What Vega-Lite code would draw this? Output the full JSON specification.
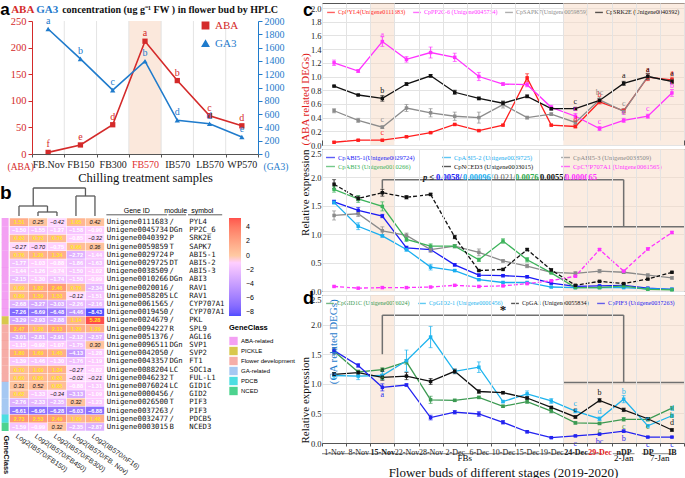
{
"$schema":"https://vega.github.io/schema/vega-lite/v6.json",
"background":"white",
"padding":{"left":0,"top":0,"right":0,"bottom":0},
"config":{
 "view":{"stroke":"#555"},
 "axis":{"labelFont":"Liberation Serif","titleFont":"Liberation Serif","gridColor":"#e3e3e3","domainColor":"#555","tickColor":"#555","labelColor":"#222","titleColor":"#111","titleFontWeight":"normal","labelOverlap":false},
 "legend":{"labelFont":"Liberation Serif","titleFont":"Liberation Sans","offset":3}
},
"datasets":{
 "hor":[
  {"s":"FB.Nov","h":"ABA","v":3,"l":"f"},{"s":"FB150","h":"ABA","v":17,"l":"e"},{"s":"FB300","h":"ABA","v":55,"l":"d"},{"s":"FB570","h":"ABA","v":212,"l":"a"},{"s":"IB570","h":"ABA","v":138,"l":"b"},{"s":"LB570","h":"ABA","v":72,"l":"c"},{"s":"WP570","h":"ABA","v":53,"l":"d"},
  {"s":"FB.Nov","h":"GA3","v":1880,"l":"a"},{"s":"FB150","h":"GA3","v":1430,"l":"b"},{"s":"FB300","h":"GA3","v":960,"l":"c"},{"s":"FB570","h":"GA3","v":1395,"l":"b"},{"s":"IB570","h":"GA3","v":507,"l":"d"},{"s":"LB570","h":"GA3","v":456,"l":"d"},{"s":"WP570","h":"GA3","v":256,"l":"e"}
 ],
 "acats":[{"s":"FB150"},{"s":"FB300"},{"s":"FB570"},{"s":"IB570"},{"s":"LB570"},{"s":"WP570"}],
 "genes":[
  {"g":"Unigene0111683","m":"/","s":"PYL4","cls":"ABA-related"},
  {"g":"Unigene0045734","m":"DGn","s":"PP2C_6","cls":"ABA-related"},
  {"g":"Unigene0040392","m":"P","s":"SRK2E","cls":"ABA-related"},
  {"g":"Unigene0059859","m":"T","s":"SAPK7","cls":"ABA-related"},
  {"g":"Unigene0029724","m":"P","s":"ABI5-1","cls":"ABA-related"},
  {"g":"Unigene0029725","m":"DT","s":"ABI5-2","cls":"ABA-related"},
  {"g":"Unigene0038509","m":"/","s":"ABI5-3","cls":"ABA-related"},
  {"g":"Unigene0010266","m":"DGn","s":"ABI3","cls":"ABA-related"},
  {"g":"Unigene0020016","m":"/","s":"RAV1","cls":"ABA-related"},
  {"g":"Unigene0058205","m":"LC","s":"RAV1","cls":"ABA-related"},
  {"g":"Unigene0061565","m":"/","s":"CYP707A1","cls":"ABA-related"},
  {"g":"Unigene0019450","m":"/","s":"CYP707A1","cls":"ABA-related"},
  {"g":"Unigene0024679","m":"/","s":"PKL","cls":"PICKLE"},
  {"g":"Unigene0094227","m":"R","s":"SPL9","cls":"Flower development"},
  {"g":"Unigene0051376","m":"/","s":"AGL16","cls":"Flower development"},
  {"g":"Unigene0096511","m":"DGn","s":"SVP1","cls":"Flower development"},
  {"g":"Unigene0042050","m":"/","s":"SVP2","cls":"Flower development"},
  {"g":"Unigene0043357","m":"DGn","s":"FT1","cls":"Flower development"},
  {"g":"Unigene0088204","m":"LC","s":"SOC1a","cls":"Flower development"},
  {"g":"Unigene0046232","m":"T","s":"FUL-L1","cls":"Flower development"},
  {"g":"Unigene0076024","m":"LC","s":"GID1C","cls":"GA-related"},
  {"g":"Unigene0000456","m":"/","s":"GID2","cls":"GA-related"},
  {"g":"Unigene0026500","m":"T","s":"PIF3","cls":"GA-related"},
  {"g":"Unigene0037263","m":"/","s":"PIF3","cls":"GA-related"},
  {"g":"Unigene0032477","m":"/","s":"PDCB5","cls":"PDCB"},
  {"g":"Unigene0003015","m":"B","s":"NCED3","cls":"NCED"}
 ],
 "hm":[
  {"g":"Unigene0111683","ci":1,"v":1.51},{"g":"Unigene0111683","ci":2,"v":0.25},{"g":"Unigene0111683","ci":3,"v":-0.42},{"g":"Unigene0111683","ci":4,"v":1.05},{"g":"Unigene0111683","ci":5,"v":0.42},
  {"g":"Unigene0045734","ci":1,"v":-1.50},{"g":"Unigene0045734","ci":2,"v":-1.55},{"g":"Unigene0045734","ci":3,"v":-1.27},{"g":"Unigene0045734","ci":4,"v":-1.58},{"g":"Unigene0045734","ci":5,"v":-0.90},
  {"g":"Unigene0040392","ci":1,"v":0.83},{"g":"Unigene0040392","ci":2,"v":0.73},{"g":"Unigene0040392","ci":3,"v":0.76},{"g":"Unigene0040392","ci":4,"v":-0.85},{"g":"Unigene0040392","ci":5,"v":-0.32},
  {"g":"Unigene0059859","ci":1,"v":-0.27},{"g":"Unigene0059859","ci":2,"v":-0.70},{"g":"Unigene0059859","ci":3,"v":-0.75},{"g":"Unigene0059859","ci":4,"v":0.66},{"g":"Unigene0059859","ci":5,"v":0.36},
  {"g":"Unigene0029724","ci":1,"v":0.76},{"g":"Unigene0029724","ci":2,"v":1.26},{"g":"Unigene0029724","ci":3,"v":1.34},{"g":"Unigene0029724","ci":4,"v":-2.72},{"g":"Unigene0029724","ci":5,"v":-1.44},
  {"g":"Unigene0029725","ci":1,"v":-1.77},{"g":"Unigene0029725","ci":2,"v":-1.03},{"g":"Unigene0029725","ci":3,"v":-0.88},{"g":"Unigene0029725","ci":4,"v":-1.86},{"g":"Unigene0029725","ci":5,"v":-1.63},
  {"g":"Unigene0038509","ci":1,"v":-1.44},{"g":"Unigene0038509","ci":2,"v":-1.26},{"g":"Unigene0038509","ci":3,"v":-0.74},{"g":"Unigene0038509","ci":4,"v":-1.50},{"g":"Unigene0038509","ci":5,"v":-1.02},
  {"g":"Unigene0010266","ci":1,"v":-2.15},{"g":"Unigene0010266","ci":2,"v":-1.30},{"g":"Unigene0010266","ci":3,"v":-1.74},{"g":"Unigene0010266","ci":4,"v":-1.50},{"g":"Unigene0010266","ci":5,"v":-0.99},
  {"g":"Unigene0020016","ci":1,"v":0.69},{"g":"Unigene0020016","ci":2,"v":1.82},{"g":"Unigene0020016","ci":3,"v":2.46},{"g":"Unigene0020016","ci":4,"v":0.76},{"g":"Unigene0020016","ci":5,"v":-2.34},
  {"g":"Unigene0058205","ci":1,"v":0.89},{"g":"Unigene0058205","ci":2,"v":1.59},{"g":"Unigene0058205","ci":3,"v":1.53},{"g":"Unigene0058205","ci":4,"v":-0.12},{"g":"Unigene0058205","ci":5,"v":-1.51},
  {"g":"Unigene0061565","ci":1,"v":-2.68},{"g":"Unigene0061565","ci":2,"v":-3.27},{"g":"Unigene0061565","ci":3,"v":-3.03},{"g":"Unigene0061565","ci":4,"v":-2.26},{"g":"Unigene0061565","ci":5,"v":-2.16},
  {"g":"Unigene0019450","ci":1,"v":-7.26},{"g":"Unigene0019450","ci":2,"v":-6.69},{"g":"Unigene0019450","ci":3,"v":-6.48},{"g":"Unigene0019450","ci":4,"v":-4.46},{"g":"Unigene0019450","ci":5,"v":-8.43},
  {"g":"Unigene0024679","ci":1,"v":-3.29},{"g":"Unigene0024679","ci":2,"v":-2.93},{"g":"Unigene0024679","ci":3,"v":-2.88},{"g":"Unigene0024679","ci":4,"v":1.14},{"g":"Unigene0024679","ci":5,"v":5.28},
  {"g":"Unigene0094227","ci":1,"v":2.47},{"g":"Unigene0094227","ci":2,"v":1.28},{"g":"Unigene0094227","ci":3,"v":2.13},{"g":"Unigene0094227","ci":4,"v":1.30},{"g":"Unigene0094227","ci":5,"v":1.29},
  {"g":"Unigene0051376","ci":1,"v":-3.01},{"g":"Unigene0051376","ci":2,"v":-2.81},{"g":"Unigene0051376","ci":3,"v":-2.91},{"g":"Unigene0051376","ci":4,"v":-2.12},{"g":"Unigene0051376","ci":5,"v":-2.57},
  {"g":"Unigene0096511","ci":1,"v":-1.15},{"g":"Unigene0096511","ci":2,"v":-0.92},{"g":"Unigene0096511","ci":3,"v":-1.07},{"g":"Unigene0096511","ci":4,"v":-1.75},{"g":"Unigene0096511","ci":5,"v":0.30},
  {"g":"Unigene0042050","ci":1,"v":1.80},{"g":"Unigene0042050","ci":2,"v":1.69},{"g":"Unigene0042050","ci":3,"v":1.45},{"g":"Unigene0042050","ci":4,"v":-4.13},{"g":"Unigene0042050","ci":5,"v":-1.28},
  {"g":"Unigene0043357","ci":1,"v":-1.39},{"g":"Unigene0043357","ci":2,"v":-1.46},{"g":"Unigene0043357","ci":3,"v":-1.30},{"g":"Unigene0043357","ci":4,"v":-1.76},{"g":"Unigene0043357","ci":5,"v":-1.19},
  {"g":"Unigene0088204","ci":1,"v":0.70},{"g":"Unigene0088204","ci":2,"v":1.09},{"g":"Unigene0088204","ci":3,"v":1.34},{"g":"Unigene0088204","ci":4,"v":-0.27},{"g":"Unigene0088204","ci":5,"v":-0.82},
  {"g":"Unigene0046232","ci":1,"v":0.60},{"g":"Unigene0046232","ci":2,"v":0.86},{"g":"Unigene0046232","ci":3,"v":0.83},{"g":"Unigene0046232","ci":4,"v":-0.02},{"g":"Unigene0046232","ci":5,"v":-0.21},
  {"g":"Unigene0076024","ci":1,"v":0.31},{"g":"Unigene0076024","ci":2,"v":0.52},{"g":"Unigene0076024","ci":3,"v":0.65},{"g":"Unigene0076024","ci":4,"v":-0.88},{"g":"Unigene0076024","ci":5,"v":-1.31},
  {"g":"Unigene0000456","ci":1,"v":0.62},{"g":"Unigene0000456","ci":2,"v":-1.33},{"g":"Unigene0000456","ci":3,"v":-0.34},{"g":"Unigene0000456","ci":4,"v":-3.13},{"g":"Unigene0000456","ci":5,"v":-1.09},
  {"g":"Unigene0026500","ci":1,"v":-2.76},{"g":"Unigene0026500","ci":2,"v":-2.33},{"g":"Unigene0026500","ci":3,"v":-2.35},{"g":"Unigene0026500","ci":4,"v":0.32},{"g":"Unigene0026500","ci":5,"v":-1.23},
  {"g":"Unigene0037263","ci":1,"v":-6.61},{"g":"Unigene0037263","ci":2,"v":-6.96},{"g":"Unigene0037263","ci":3,"v":-6.28},{"g":"Unigene0037263","ci":4,"v":-6.03},{"g":"Unigene0037263","ci":5,"v":-6.88},
  {"g":"Unigene0032477","ci":1,"v":2.73},{"g":"Unigene0032477","ci":2,"v":2.53},{"g":"Unigene0032477","ci":3,"v":2.49},{"g":"Unigene0032477","ci":4,"v":1.09},{"g":"Unigene0032477","ci":5,"v":1.48},
  {"g":"Unigene0003015","ci":1,"v":-1.59},{"g":"Unigene0003015","ci":2,"v":-0.99},{"g":"Unigene0003015","ci":3,"v":0.32},{"g":"Unigene0003015","ci":4,"v":-2.35},{"g":"Unigene0003015","ci":5,"v":-2.87}
 ],
 "dendro":[
  {"x":2,"x2":2,"y":0,"y2":4},{"x":3,"x2":3,"y":0,"y2":4},{"x":2,"x2":3,"y":4,"y2":4},
  {"x":1,"x2":1,"y":0,"y2":10},{"x":2.5,"x2":2.5,"y":4,"y2":10},{"x":1,"x2":2.5,"y":10,"y2":10},
  {"x":4,"x2":4,"y":0,"y2":20},{"x":5,"x2":5,"y":0,"y2":20},{"x":4,"x2":5,"y":20,"y2":20},
  {"x":1.75,"x2":1.75,"y":10,"y2":28},{"x":4.5,"x2":4.5,"y":20,"y2":28},{"x":1.75,"x2":4.5,"y":28,"y2":28}
 ],
 "shade":[{"d":"15-Nov"},{"d":"24-Dec"},{"d":"29-Dec"},{"d":"nDP"},{"d":"DP"},{"d":"IB"}],
 "c1":[
  {"d":"1-Nov","g":"CpPYL4(Unigene0111683)","v":0.04,"e":0.01},{"d":"8-Nov","g":"CpPYL4(Unigene0111683)","v":0.07,"e":0.01},{"d":"15-Nov","g":"CpPYL4(Unigene0111683)","v":0.07,"e":0.01,"l":"c"},{"d":"22-Nov","g":"CpPYL4(Unigene0111683)","v":0.12,"e":0.01},{"d":"28-Nov","g":"CpPYL4(Unigene0111683)","v":0.18,"e":0.01},{"d":"2-Dec","g":"CpPYL4(Unigene0111683)","v":0.30,"e":0.01},{"d":"6-Dec","g":"CpPYL4(Unigene0111683)","v":0.21,"e":0.01},{"d":"10-Dec","g":"CpPYL4(Unigene0111683)","v":0.29,"e":0.01},{"d":"15-Dec","g":"CpPYL4(Unigene0111683)","v":0.98,"e":0.06},{"d":"19-Dec","g":"CpPYL4(Unigene0111683)","v":0.29,"e":0.01},{"d":"24-Dec","g":"CpPYL4(Unigene0111683)","v":0.27,"e":0.02,"l":"d"},{"d":"29-Dec","g":"CpPYL4(Unigene0111683)","v":0.63,"e":0.03,"l":"b"},{"d":"nDP","g":"CpPYL4(Unigene0111683)","v":0.50,"e":0.03},{"d":"DP","g":"CpPYL4(Unigene0111683)","v":0.99,"e":0.05,"l":"a"},{"d":"IB","g":"CpPYL4(Unigene0111683)","v":0.95,"e":0.04,"l":"a"},
  {"d":"1-Nov","g":"CpPP2C-6 (Unigene0045734)","v":1.20,"e":0.04},{"d":"8-Nov","g":"CpPP2C-6 (Unigene0045734)","v":1.08,"e":0.02},{"d":"15-Nov","g":"CpPP2C-6 (Unigene0045734)","v":1.51,"e":0.07,"l":"a"},{"d":"22-Nov","g":"CpPP2C-6 (Unigene0045734)","v":1.25,"e":0.04},{"d":"28-Nov","g":"CpPP2C-6 (Unigene0045734)","v":1.35,"e":0.08},{"d":"2-Dec","g":"CpPP2C-6 (Unigene0045734)","v":1.28,"e":0.06},{"d":"6-Dec","g":"CpPP2C-6 (Unigene0045734)","v":1.00,"e":0.06},{"d":"10-Dec","g":"CpPP2C-6 (Unigene0045734)","v":0.89,"e":0.02},{"d":"15-Dec","g":"CpPP2C-6 (Unigene0045734)","v":0.88,"e":0.03},{"d":"19-Dec","g":"CpPP2C-6 (Unigene0045734)","v":0.55,"e":0.03},{"d":"24-Dec","g":"CpPP2C-6 (Unigene0045734)","v":0.42,"e":0.04,"l":"c"},{"d":"29-Dec","g":"CpPP2C-6 (Unigene0045734)","v":0.24,"e":0.03,"l":"c"},{"d":"nDP","g":"CpPP2C-6 (Unigene0045734)","v":0.36,"e":0.03,"l":"c"},{"d":"DP","g":"CpPP2C-6 (Unigene0045734)","v":0.42,"e":0.03,"l":"c"},{"d":"IB","g":"CpPP2C-6 (Unigene0045734)","v":0.76,"e":0.05,"l":"b"},
  {"d":"1-Nov","g":"CpSAPK7(Unigene0059859)","v":0.50,"e":0.03},{"d":"8-Nov","g":"CpSAPK7(Unigene0059859)","v":0.36,"e":0.03},{"d":"15-Nov","g":"CpSAPK7(Unigene0059859)","v":0.26,"e":0.02,"l":"c"},{"d":"22-Nov","g":"CpSAPK7(Unigene0059859)","v":0.54,"e":0.05},{"d":"28-Nov","g":"CpSAPK7(Unigene0059859)","v":0.47,"e":0.06},{"d":"2-Dec","g":"CpSAPK7(Unigene0059859)","v":0.42,"e":0.06},{"d":"6-Dec","g":"CpSAPK7(Unigene0059859)","v":0.40,"e":0.08},{"d":"10-Dec","g":"CpSAPK7(Unigene0059859)","v":0.59,"e":0.05},{"d":"15-Dec","g":"CpSAPK7(Unigene0059859)","v":0.40,"e":0.02},{"d":"19-Dec","g":"CpSAPK7(Unigene0059859)","v":0.45,"e":0.02},{"d":"24-Dec","g":"CpSAPK7(Unigene0059859)","v":0.33,"e":0.03},{"d":"29-Dec","g":"CpSAPK7(Unigene0059859)","v":0.66,"e":0.04,"l":"bc"},{"d":"nDP","g":"CpSAPK7(Unigene0059859)","v":0.49,"e":0.04,"l":"c"},{"d":"DP","g":"CpSAPK7(Unigene0059859)","v":1.00,"e":0.05},{"d":"IB","g":"CpSAPK7(Unigene0059859)","v":0.93,"e":0.04},
  {"d":"1-Nov","g":"CpSRK2E (Unigene0040392)","v":0.86,"e":0.01},{"d":"8-Nov","g":"CpSRK2E (Unigene0040392)","v":0.73,"e":0.01},{"d":"15-Nov","g":"CpSRK2E (Unigene0040392)","v":0.68,"e":0.04,"l":"b"},{"d":"22-Nov","g":"CpSRK2E (Unigene0040392)","v":0.89,"e":0.02},{"d":"28-Nov","g":"CpSRK2E (Unigene0040392)","v":1.01,"e":0.02},{"d":"2-Dec","g":"CpSRK2E (Unigene0040392)","v":0.77,"e":0.03},{"d":"6-Dec","g":"CpSRK2E (Unigene0040392)","v":0.68,"e":0.02},{"d":"10-Dec","g":"CpSRK2E (Unigene0040392)","v":0.61,"e":0.03},{"d":"15-Dec","g":"CpSRK2E (Unigene0040392)","v":0.71,"e":0.02},{"d":"19-Dec","g":"CpSRK2E (Unigene0040392)","v":0.53,"e":0.02},{"d":"24-Dec","g":"CpSRK2E (Unigene0040392)","v":0.53,"e":0.02,"l":"c"},{"d":"29-Dec","g":"CpSRK2E (Unigene0040392)","v":0.65,"e":0.03},{"d":"nDP","g":"CpSRK2E (Unigene0040392)","v":0.90,"e":0.03,"l":"a"},{"d":"DP","g":"CpSRK2E (Unigene0040392)","v":1.00,"e":0.04,"l":"a"},{"d":"IB","g":"CpSRK2E (Unigene0040392)","v":0.93,"e":0.03,"l":"a"}
 ],
 "c2":[
  {"d":"1-Nov","g":"CpABI5-1(Unigene0029724)","v":1.57,"e":0.03},{"d":"8-Nov","g":"CpABI5-1(Unigene0029724)","v":1.42,"e":0.05},{"d":"15-Nov","g":"CpABI5-1(Unigene0029724)","v":1.32,"e":0.03},{"d":"22-Nov","g":"CpABI5-1(Unigene0029724)","v":0.76,"e":0.03},{"d":"28-Nov","g":"CpABI5-1(Unigene0029724)","v":0.73,"e":0.03},{"d":"2-Dec","g":"CpABI5-1(Unigene0029724)","v":0.46,"e":0.02},{"d":"6-Dec","g":"CpABI5-1(Unigene0029724)","v":0.28,"e":0.02},{"d":"10-Dec","g":"CpABI5-1(Unigene0029724)","v":0.27,"e":0.02},{"d":"15-Dec","g":"CpABI5-1(Unigene0029724)","v":0.25,"e":0.02},{"d":"19-Dec","g":"CpABI5-1(Unigene0029724)","v":0.14,"e":0.02},{"d":"24-Dec","g":"CpABI5-1(Unigene0029724)","v":0.08,"e":0.01},{"d":"29-Dec","g":"CpABI5-1(Unigene0029724)","v":0.09,"e":0.01},{"d":"nDP","g":"CpABI5-1(Unigene0029724)","v":0.10,"e":0.01},{"d":"DP","g":"CpABI5-1(Unigene0029724)","v":0.05,"e":0.01},{"d":"IB","g":"CpABI5-1(Unigene0029724)","v":0.03,"e":0.01},
  {"d":"1-Nov","g":"CpABI5-2 (Unigene0029725)","v":1.56,"e":0.03},{"d":"8-Nov","g":"CpABI5-2 (Unigene0029725)","v":1.14,"e":0.06},{"d":"15-Nov","g":"CpABI5-2 (Unigene0029725)","v":0.97,"e":0.02},{"d":"22-Nov","g":"CpABI5-2 (Unigene0029725)","v":0.73,"e":0.03},{"d":"28-Nov","g":"CpABI5-2 (Unigene0029725)","v":0.42,"e":0.05},{"d":"2-Dec","g":"CpABI5-2 (Unigene0029725)","v":0.36,"e":0.02},{"d":"6-Dec","g":"CpABI5-2 (Unigene0029725)","v":0.20,"e":0.01},{"d":"10-Dec","g":"CpABI5-2 (Unigene0029725)","v":0.15,"e":0.01},{"d":"15-Dec","g":"CpABI5-2 (Unigene0029725)","v":0.15,"e":0.01},{"d":"19-Dec","g":"CpABI5-2 (Unigene0029725)","v":0.07,"e":0.01},{"d":"24-Dec","g":"CpABI5-2 (Unigene0029725)","v":0.06,"e":0.01},{"d":"29-Dec","g":"CpABI5-2 (Unigene0029725)","v":0.06,"e":0.01},{"d":"nDP","g":"CpABI5-2 (Unigene0029725)","v":0.06,"e":0.01},{"d":"DP","g":"CpABI5-2 (Unigene0029725)","v":0.04,"e":0.01},{"d":"IB","g":"CpABI5-2 (Unigene0029725)","v":0.03,"e":0.01},
  {"d":"1-Nov","g":"CpABI5-3 (Unigene0038509)","v":1.33,"e":0.08},{"d":"8-Nov","g":"CpABI5-3 (Unigene0038509)","v":1.36,"e":0.05},{"d":"15-Nov","g":"CpABI5-3 (Unigene0038509)","v":1.06,"e":0.07},{"d":"22-Nov","g":"CpABI5-3 (Unigene0038509)","v":0.98,"e":0.04},{"d":"28-Nov","g":"CpABI5-3 (Unigene0038509)","v":0.73,"e":0.05},{"d":"2-Dec","g":"CpABI5-3 (Unigene0038509)","v":0.79,"e":0.03},{"d":"6-Dec","g":"CpABI5-3 (Unigene0038509)","v":0.68,"e":0.06},{"d":"10-Dec","g":"CpABI5-3 (Unigene0038509)","v":0.53,"e":0.02},{"d":"15-Dec","g":"CpABI5-3 (Unigene0038509)","v":0.44,"e":0.03},{"d":"19-Dec","g":"CpABI5-3 (Unigene0038509)","v":0.33,"e":0.02},{"d":"24-Dec","g":"CpABI5-3 (Unigene0038509)","v":0.31,"e":0.03},{"d":"29-Dec","g":"CpABI5-3 (Unigene0038509)","v":0.35,"e":0.03},{"d":"nDP","g":"CpABI5-3 (Unigene0038509)","v":0.33,"e":0.02},{"d":"DP","g":"CpABI5-3 (Unigene0038509)","v":0.28,"e":0.02},{"d":"IB","g":"CpABI5-3 (Unigene0038509)","v":0.23,"e":0.02},
  {"d":"1-Nov","g":"CpABI3 (Unigene0010266)","v":1.79,"e":0.05},{"d":"8-Nov","g":"CpABI3 (Unigene0010266)","v":1.62,"e":0.06},{"d":"15-Nov","g":"CpABI3 (Unigene0010266)","v":1.49,"e":0.08},{"d":"22-Nov","g":"CpABI3 (Unigene0010266)","v":0.91,"e":0.04},{"d":"28-Nov","g":"CpABI3 (Unigene0010266)","v":0.79,"e":0.04},{"d":"2-Dec","g":"CpABI3 (Unigene0010266)","v":0.79,"e":0.03},{"d":"6-Dec","g":"CpABI3 (Unigene0010266)","v":0.55,"e":0.03},{"d":"10-Dec","g":"CpABI3 (Unigene0010266)","v":0.88,"e":0.04},{"d":"15-Dec","g":"CpABI3 (Unigene0010266)","v":0.55,"e":0.04},{"d":"19-Dec","g":"CpABI3 (Unigene0010266)","v":0.32,"e":0.02},{"d":"24-Dec","g":"CpABI3 (Unigene0010266)","v":0.06,"e":0.01},{"d":"29-Dec","g":"CpABI3 (Unigene0010266)","v":0.06,"e":0.01},{"d":"nDP","g":"CpABI3 (Unigene0010266)","v":0.09,"e":0.01},{"d":"DP","g":"CpABI3 (Unigene0010266)","v":0.03,"e":0.01},{"d":"IB","g":"CpABI3 (Unigene0010266)","v":0.02,"e":0.01},
  {"d":"1-Nov","g":"CpNCED3 (Unigene0003015)","v":1.88,"e":0.08},{"d":"8-Nov","g":"CpNCED3 (Unigene0003015)","v":1.63,"e":0.04},{"d":"15-Nov","g":"CpNCED3 (Unigene0003015)","v":1.73,"e":0.06},{"d":"22-Nov","g":"CpNCED3 (Unigene0003015)","v":1.65,"e":0.03},{"d":"28-Nov","g":"CpNCED3 (Unigene0003015)","v":1.70,"e":0.02},{"d":"2-Dec","g":"CpNCED3 (Unigene0003015)","v":0.95,"e":0.03},{"d":"6-Dec","g":"CpNCED3 (Unigene0003015)","v":0.36,"e":0.01},{"d":"10-Dec","g":"CpNCED3 (Unigene0003015)","v":0.38,"e":0.01},{"d":"15-Dec","g":"CpNCED3 (Unigene0003015)","v":0.73,"e":0.02},{"d":"19-Dec","g":"CpNCED3 (Unigene0003015)","v":0.37,"e":0.02},{"d":"24-Dec","g":"CpNCED3 (Unigene0003015)","v":0.10,"e":0.01},{"d":"29-Dec","g":"CpNCED3 (Unigene0003015)","v":0.17,"e":0.01},{"d":"nDP","g":"CpNCED3 (Unigene0003015)","v":0.13,"e":0.01},{"d":"DP","g":"CpNCED3 (Unigene0003015)","v":0.21,"e":0.01},{"d":"IB","g":"CpNCED3 (Unigene0003015)","v":0.33,"e":0.01},
  {"d":"1-Nov","g":"CpCYP707A1 (Unigene0061565)","v":0.08,"e":0.01},{"d":"8-Nov","g":"CpCYP707A1 (Unigene0061565)","v":0.05,"e":0.01},{"d":"15-Nov","g":"CpCYP707A1 (Unigene0061565)","v":0.06,"e":0.01},{"d":"22-Nov","g":"CpCYP707A1 (Unigene0061565)","v":0.06,"e":0.01},{"d":"28-Nov","g":"CpCYP707A1 (Unigene0061565)","v":0.07,"e":0.01},{"d":"2-Dec","g":"CpCYP707A1 (Unigene0061565)","v":0.10,"e":0.01},{"d":"6-Dec","g":"CpCYP707A1 (Unigene0061565)","v":0.08,"e":0.01},{"d":"10-Dec","g":"CpCYP707A1 (Unigene0061565)","v":0.09,"e":0.01},{"d":"15-Dec","g":"CpCYP707A1 (Unigene0061565)","v":0.13,"e":0.01},{"d":"19-Dec","g":"CpCYP707A1 (Unigene0061565)","v":0.18,"e":0.01},{"d":"24-Dec","g":"CpCYP707A1 (Unigene0061565)","v":0.26,"e":0.01},{"d":"29-Dec","g":"CpCYP707A1 (Unigene0061565)","v":0.73,"e":0.02},{"d":"nDP","g":"CpCYP707A1 (Unigene0061565)","v":0.35,"e":0.01},{"d":"DP","g":"CpCYP707A1 (Unigene0061565)","v":0.74,"e":0.02},{"d":"IB","g":"CpCYP707A1 (Unigene0061565)","v":1.03,"e":0.02}
 ],
 "gd":[
  {"d":"1-Nov","g":"CpGID1C (Unigene0076024)","v":1.55,"e":0.05},{"d":"8-Nov","g":"CpGID1C (Unigene0076024)","v":1.20,"e":0.02},{"d":"15-Nov","g":"CpGID1C (Unigene0076024)","v":1.24,"e":0.03,"l":"a"},{"d":"22-Nov","g":"CpGID1C (Unigene0076024)","v":1.37,"e":0.04},{"d":"28-Nov","g":"CpGID1C (Unigene0076024)","v":0.73,"e":0.06},{"d":"2-Dec","g":"CpGID1C (Unigene0076024)","v":0.72,"e":0.02},{"d":"6-Dec","g":"CpGID1C (Unigene0076024)","v":0.77,"e":0.02},{"d":"10-Dec","g":"CpGID1C (Unigene0076024)","v":0.62,"e":0.02},{"d":"15-Dec","g":"CpGID1C (Unigene0076024)","v":0.70,"e":0.03},{"d":"19-Dec","g":"CpGID1C (Unigene0076024)","v":0.54,"e":0.03},{"d":"24-Dec","g":"CpGID1C (Unigene0076024)","v":0.34,"e":0.02},{"d":"29-Dec","g":"CpGID1C (Unigene0076024)","v":0.33,"e":0.02,"l":"c"},{"d":"nDP","g":"CpGID1C (Unigene0076024)","v":0.40,"e":0.03,"l":"c"},{"d":"DP","g":"CpGID1C (Unigene0076024)","v":0.40,"e":0.03,"l":"c"},{"d":"IB","g":"CpGID1C (Unigene0076024)","v":0.59,"e":0.03,"l":"b"},
  {"d":"1-Nov","g":"CpGID2-1 (Unigene0000456)","v":1.14,"e":0.05},{"d":"8-Nov","g":"CpGID2-1 (Unigene0000456)","v":1.13,"e":0.06},{"d":"15-Nov","g":"CpGID2-1 (Unigene0000456)","v":1.14,"e":0.07},{"d":"22-Nov","g":"CpGID2-1 (Unigene0000456)","v":1.39,"e":0.18},{"d":"28-Nov","g":"CpGID2-1 (Unigene0000456)","v":1.79,"e":0.18},{"d":"2-Dec","g":"CpGID2-1 (Unigene0000456)","v":1.21,"e":0.03},{"d":"6-Dec","g":"CpGID2-1 (Unigene0000456)","v":1.28,"e":0.09},{"d":"10-Dec","g":"CpGID2-1 (Unigene0000456)","v":0.70,"e":0.02},{"d":"15-Dec","g":"CpGID2-1 (Unigene0000456)","v":0.83,"e":0.05},{"d":"19-Dec","g":"CpGID2-1 (Unigene0000456)","v":0.71,"e":0.04},{"d":"24-Dec","g":"CpGID2-1 (Unigene0000456)","v":0.54,"e":0.03,"l":"c"},{"d":"29-Dec","g":"CpGID2-1 (Unigene0000456)","v":0.41,"e":0.03,"l":"d"},{"d":"nDP","g":"CpGID2-1 (Unigene0000456)","v":0.74,"e":0.06,"l":"b"},{"d":"DP","g":"CpGID2-1 (Unigene0000456)","v":0.29,"e":0.02,"l":"e"},{"d":"IB","g":"CpGID2-1 (Unigene0000456)","v":0.46,"e":0.03,"l":"d"},
  {"d":"1-Nov","g":"CpGA1 (Unigene0055834)","v":1.16,"e":0.03},{"d":"8-Nov","g":"CpGA1 (Unigene0055834)","v":1.19,"e":0.04},{"d":"15-Nov","g":"CpGA1 (Unigene0055834)","v":1.11,"e":0.05,"l":"a"},{"d":"22-Nov","g":"CpGA1 (Unigene0055834)","v":1.13,"e":0.06},{"d":"28-Nov","g":"CpGA1 (Unigene0055834)","v":1.04,"e":0.05},{"d":"2-Dec","g":"CpGA1 (Unigene0055834)","v":1.21,"e":0.04},{"d":"6-Dec","g":"CpGA1 (Unigene0055834)","v":0.87,"e":0.03},{"d":"10-Dec","g":"CpGA1 (Unigene0055834)","v":0.85,"e":0.02},{"d":"15-Dec","g":"CpGA1 (Unigene0055834)","v":0.76,"e":0.02},{"d":"19-Dec","g":"CpGA1 (Unigene0055834)","v":0.60,"e":0.02},{"d":"24-Dec","g":"CpGA1 (Unigene0055834)","v":0.44,"e":0.02,"l":"c"},{"d":"29-Dec","g":"CpGA1 (Unigene0055834)","v":0.72,"e":0.03,"l":"b"},{"d":"nDP","g":"CpGA1 (Unigene0055834)","v":0.56,"e":0.03},{"d":"DP","g":"CpGA1 (Unigene0055834)","v":0.41,"e":0.02},{"d":"IB","g":"CpGA1 (Unigene0055834)","v":0.22,"e":0.02,"l":"d"},
  {"d":"1-Nov","g":"CpPIF3 (Unigene0037263)","v":1.56,"e":0.05},{"d":"8-Nov","g":"CpPIF3 (Unigene0037263)","v":1.31,"e":0.03},{"d":"15-Nov","g":"CpPIF3 (Unigene0037263)","v":0.94,"e":0.06,"l":"a"},{"d":"22-Nov","g":"CpPIF3 (Unigene0037263)","v":0.98,"e":0.02},{"d":"28-Nov","g":"CpPIF3 (Unigene0037263)","v":0.43,"e":0.04},{"d":"2-Dec","g":"CpPIF3 (Unigene0037263)","v":0.52,"e":0.03},{"d":"6-Dec","g":"CpPIF3 (Unigene0037263)","v":0.49,"e":0.04},{"d":"10-Dec","g":"CpPIF3 (Unigene0037263)","v":0.35,"e":0.03},{"d":"15-Dec","g":"CpPIF3 (Unigene0037263)","v":0.19,"e":0.02},{"d":"19-Dec","g":"CpPIF3 (Unigene0037263)","v":0.09,"e":0.01},{"d":"24-Dec","g":"CpPIF3 (Unigene0037263)","v":0.12,"e":0.01,"l":"c"},{"d":"29-Dec","g":"CpPIF3 (Unigene0037263)","v":0.15,"e":0.01,"l":"bc"},{"d":"nDP","g":"CpPIF3 (Unigene0037263)","v":0.20,"e":0.02,"l":"b"},{"d":"DP","g":"CpPIF3 (Unigene0037263)","v":0.10,"e":0.01,"l":"c"},{"d":"IB","g":"CpPIF3 (Unigene0037263)","v":0.10,"e":0.01,"l":"c"}
 ]
},
"hconcat":[
 {
  "vconcat":[
   {
    "width":258,"height":151,
    "view":{"stroke":null},
    "layer":[
     {
      "layer":[
       {"data":{"values":[{"s":"FB570"}]},"mark":{"type":"rect","color":"#fbe8dc"},
        "encoding":{"x":{"field":"s","type":"nominal","sort":["FB.Nov","FB150","FB300","FB570","IB570","LB570","WP570"],"scale":{"type":"band","paddingInner":0,"paddingOuter":0,"domain":["FB.Nov","FB150","FB300","FB570","IB570","LB570","WP570"],"range":[32,258]},
          "axis":{"title":"Chilling treatment samples","titleFontSize":12.5,"titlePadding":2,"labelFontSize":10,"labelAngle":0,"labelPadding":2,"labelOverlap":false,"labelColor":{"condition":{"test":"datum.value == 'FB570'","value":"#e03030"},"value":"#222"},"tickBand":"extent","grid":false,"tickSize":3}},
         "y":{"datum":250,"scale":{"domain":[0,250],"nice":false,"range":[151,18]}},"y2":{"datum":0}}},
       {"data":{"name":"acats"},"mark":{"type":"rule","color":"#e4e4e4","strokeWidth":1},
        "encoding":{"x":{"field":"s","type":"nominal","bandPosition":0},"y":{"datum":250},"y2":{"datum":0}}},
       {"data":{"name":"hor"},"transform":[{"filter":"datum.h == 'ABA'"}],
        "layer":[
         {"mark":{"type":"line","strokeWidth":1.6},"encoding":{"x":{"field":"s","type":"nominal","sort":["FB.Nov","FB150","FB300","FB570","IB570","LB570","WP570"]},
           "y":{"field":"v","type":"quantitative","axis":{"offset":-32,"title":"(ABA)","titleAngle":0,"titleX":-25,"titleY":163,"titleAlign":"left","titleBaseline":"middle","titleColor":"#d42a2a","titleFontSize":9.5,"values":[0,50,100,150,200,250],"tickCount":30,"labelOverlap":false,"labelColor":"#d42a2a","tickColor":"#d42a2a","domainColor":"#d42a2a","labelFontSize":10.5,"grid":false,"tickSize":4}},
           "color":{"field":"h","type":"nominal","scale":{"domain":["ABA","GA3"],"range":["#d42a2a","#1f7bcc"]},"legend":{"orient":"none","legendX":200,"legendY":17,"title":null,"labelFontSize":11,"symbolSize":40,"rowPadding":5,"labelColor":{"expr":"datum.label == 'ABA' ? '#d42a2a' : '#1f7bcc'"}}}}},
         {"mark":{"type":"point","filled":true,"size":28,"opacity":1},"encoding":{"x":{"field":"s","type":"nominal","sort":["FB.Nov","FB150","FB300","FB570","IB570","LB570","WP570"]},"y":{"field":"v","type":"quantitative"},
           "color":{"field":"h","type":"nominal"},
           "shape":{"field":"h","type":"nominal","scale":{"domain":["ABA","GA3"],"range":["square","triangle-up"]},"legend":{"orient":"none","legendX":200,"legendY":17,"title":null,"labelFontSize":11,"symbolSize":40,"rowPadding":5,"labelColor":{"expr":"datum.label == 'ABA' ? '#d42a2a' : '#1f7bcc'"}}}}},
         {"mark":{"type":"text","dy":-8,"font":"Liberation Serif","fontSize":10},"encoding":{"x":{"field":"s","type":"nominal","sort":["FB.Nov","FB150","FB300","FB570","IB570","LB570","WP570"]},"y":{"field":"v","type":"quantitative"},"text":{"field":"l"},"color":{"field":"h","type":"nominal"}}}
        ]},
       {"data":{"values":[{}]},"mark":{"type":"text","text":"a","font":"Liberation Sans","fontSize":17,"fontWeight":"bold","align":"left","baseline":"middle","dx":-48},"encoding":{"x":{"datum":"FB.Nov"},"y":{"datum":271}}},
       {"data":{"values":[{}]},"mark":{"type":"text","text":"ABA","font":"Liberation Serif","fontSize":11,"fontWeight":"bold","color":"#d42a2a","align":"left","baseline":"middle","dx":-37},"encoding":{"x":{"datum":"FB.Nov"},"y":{"datum":271}}},
       {"data":{"values":[{}]},"mark":{"type":"text","text":"GA3","font":"Liberation Serif","fontSize":11,"fontWeight":"bold","color":"#1f7bcc","align":"left","baseline":"middle","dx":-12},"encoding":{"x":{"datum":"FB.Nov"},"y":{"datum":271}}},
       {"data":{"values":[{}]},"mark":{"type":"text","text":"concentration (ug g⁻¹ FW )  in flower bud by HPLC","font":"Liberation Serif","fontSize":10,"fontWeight":"bold","color":"#111","align":"left","baseline":"middle","dx":14},"encoding":{"x":{"datum":"FB.Nov"},"y":{"datum":271}}}
      ]
     },
     {"data":{"name":"hor"},"transform":[{"filter":"datum.h == 'GA3'"}],
      "layer":[
       {"mark":{"type":"line","strokeWidth":1.6},"encoding":{"x":{"field":"s","type":"nominal","sort":["FB.Nov","FB150","FB300","FB570","IB570","LB570","WP570"]},
         "y":{"field":"v","type":"quantitative","scale":{"domain":[0,2000],"nice":false,"range":[151,18]},"axis":{"orient":"right","title":"(GA3)","titleAngle":0,"titleX":5,"titleY":163,"titleAlign":"left","titleBaseline":"middle","titleColor":"#1f7bcc","titleFontSize":9.5,"values":[0,200,400,600,800,1000,1200,1400,1600,1800,2000],"tickCount":30,"format":"d","labelOverlap":false,"labelColor":"#1f7bcc","tickColor":"#1f7bcc","domainColor":"#1f7bcc","labelFontSize":10,"grid":false,"tickSize":4}},
         "color":{"field":"h","type":"nominal"}}},
       {"mark":{"type":"point","filled":true,"size":28,"opacity":1},"encoding":{"x":{"field":"s","type":"nominal","sort":["FB.Nov","FB150","FB300","FB570","IB570","LB570","WP570"]},"y":{"field":"v","type":"quantitative"},"color":{"field":"h","type":"nominal"},"shape":{"field":"h","type":"nominal"}}},
       {"mark":{"type":"text","dy":-8,"font":"Liberation Serif","fontSize":10},"encoding":{"x":{"field":"s","type":"nominal","sort":["FB.Nov","FB150","FB300","FB570","IB570","LB570","WP570"]},"y":{"field":"v","type":"quantitative"},"text":{"field":"l"},"color":{"field":"h","type":"nominal"}}}
      ]}
    ],
    "resolve":{"scale":{"y":"independent"}}
   },
   {
    "width":226,"height":32,
    "view":{"stroke":null},
    "layer":[
     {"data":{"name":"dendro"},"mark":{"type":"rule","color":"#5a5a5a","strokeWidth":1.3},
      "encoding":{"x":{"field":"x","type":"quantitative","scale":{"domain":[0,11.9],"nice":false,"zero":false},"axis":null},"x2":{"field":"x2"},
       "y":{"field":"y","type":"quantitative","scale":{"domain":[0,32],"nice":false},"axis":null},"y2":{"field":"y2"}}},
     {"data":{"values":[{}]},"mark":{"type":"text","text":"b","font":"Liberation Sans","fontSize":19,"fontWeight":"bold","align":"left","baseline":"middle"},"encoding":{"x":{"datum":0},"y":{"datum":23}}},
     {"data":{"values":[{}]},"mark":{"type":"text","text":"Gene ID","font":"Liberation Sans","fontSize":7,"align":"center","baseline":"bottom"},"encoding":{"x":{"datum":7.2},"y":{"datum":2}}},
     {"data":{"values":[{}]},"mark":{"type":"text","text":"module","font":"Liberation Sans","fontSize":7,"align":"center","baseline":"bottom"},"encoding":{"x":{"datum":9.25},"y":{"datum":2}}},
     {"data":{"values":[{}]},"mark":{"type":"text","text":"symbol","font":"Liberation Sans","fontSize":7,"align":"center","baseline":"bottom"},"encoding":{"x":{"datum":10.65},"y":{"datum":2}}},
     {"data":{"values":[{}]},"mark":{"type":"rule","color":"#333","strokeWidth":0.8},"encoding":{"x":{"datum":5.6},"x2":{"datum":8.8},"y":{"datum":1.2}}},
     {"data":{"values":[{}]},"mark":{"type":"rule","color":"#333","strokeWidth":0.8},"encoding":{"x":{"datum":8.87},"x2":{"datum":9.8},"y":{"datum":1.2}}},
     {"data":{"values":[{}]},"mark":{"type":"rule","color":"#333","strokeWidth":0.8},"encoding":{"x":{"datum":9.9},"x2":{"datum":11.7},"y":{"datum":1.2}}}
    ]
   },
   {
    "width":226,"height":213,
    "view":{"stroke":null},
    "layer":[
     {"data":{"name":"hm"},"mark":{"type":"tick","thickness":18.4,"size":7.7,"orient":"vertical"},
      "encoding":{"x":{"field":"ci","type":"quantitative","scale":{"domain":[0,11.9],"nice":false,"zero":false},
        "axis":{"values":[1,2,3,4,5],"tickCount":30,"labelExpr":"['Log2(IB570/FB150)','Log2(IB570/FB450)','Log2(IB570/FB300)','Log2(IB570/FB. Nov)','Log2(IB570/nF16)'][datum.value-1]","labelAngle":35,"labelAlign":"left","labelBaseline":"middle","labelFont":"Liberation Sans","labelFontSize":7,"labelPadding":4,"labelOffset":-3,"labelOverlap":false,"ticks":false,"domain":false,"grid":false,"title":"GeneClass","titleAngle":90,"titleX":5,"titleY":4,"titleAlign":"left","titleBaseline":"middle","titleFont":"Liberation Sans","titleFontWeight":"bold","titleFontSize":7.5}},
       "y":{"field":"g","type":"nominal","sort":null,"scale":{"type":"band","paddingInner":0,"paddingOuter":0},"axis":null},
       "color":{"field":"v","type":"quantitative","scale":{"domain":[-8.5,0,5.3],"range":["#0000ff","#ffffff","#ff0000"]},
        "legend":{"orient":"right","offset":3,"title":null,"gradientLength":98,"gradientThickness":12,"values":[4,2,0,-2,-4,-6,-8],"labelFont":"Liberation Sans","labelFontSize":7,"labelOffset":5,"direction":"vertical"}}}},
     {"data":{"name":"genes"},"mark":{"type":"tick","thickness":7,"size":8.3,"orient":"vertical"},
      "encoding":{"x":{"datum":0.27,"type":"quantitative"},"y":{"field":"g","type":"nominal","sort":null},
       "color":{"field":"cls","type":"nominal","scale":{"domain":["ABA-related","PICKLE","Flower development","GA-related","PDCB","NCED"],"range":["#ee78ee","#c8b000","#f28a82","#7fb0ec","#00d0d4","#00c060"]},
        "legend":{"orient":"right","offset":3,"title":"GeneClass","titleFont":"Liberation Sans","titleFontSize":7.5,"titleFontWeight":"bold","symbolType":"square","symbolSize":70,"symbolStrokeWidth":0,"labelFont":"Liberation Sans","labelFontSize":6,"labelOffset":3,"rowPadding":1}}}},
     {"data":{"name":"hm"},"transform":[{"filter":"datum.v < 0.6 && datum.v > -0.72"}],"mark":{"type":"text","font":"Liberation Sans","fontSize":5.6,"fontStyle":"italic","color":"#111"},
      "encoding":{"x":{"field":"ci","type":"quantitative"},"y":{"field":"g","type":"nominal","sort":null},"text":{"field":"v","type":"quantitative","format":".2f"}}},
     {"data":{"name":"hm"},"transform":[{"filter":"datum.v >= 0.6 || datum.v <= -0.72"}],"mark":{"type":"text","font":"Liberation Sans","fontSize":5.6,"fontWeight":"bold"},
      "encoding":{"x":{"field":"ci","type":"quantitative"},"y":{"field":"g","type":"nominal","sort":null},"text":{"field":"v","type":"quantitative","format":".2f"},
       "color":{"condition":{"test":"datum.v >= 0.6","value":"#ffe81a"},"value":"#ffffff"}}},
     {"data":{"name":"genes"},"mark":{"type":"text","font":"DejaVu Sans Mono","fontSize":7.3,"align":"left","color":"#111"},
      "encoding":{"x":{"datum":5.62,"type":"quantitative"},"y":{"field":"g","type":"nominal","sort":null},"text":{"field":"g"}}},
     {"data":{"name":"genes"},"mark":{"type":"text","font":"DejaVu Sans Mono","fontSize":7.3,"align":"left","color":"#111"},
      "encoding":{"x":{"datum":8.92,"type":"quantitative"},"y":{"field":"g","type":"nominal","sort":null},"text":{"field":"m"}}},
     {"data":{"name":"genes"},"mark":{"type":"text","font":"DejaVu Sans Mono","fontSize":7.3,"align":"left","color":"#111"},
      "encoding":{"x":{"datum":9.97,"type":"quantitative"},"y":{"field":"g","type":"nominal","sort":null},"text":{"field":"s"}}}
    ],
    "resolve":{"scale":{"color":"independent"},"legend":{"color":"independent"}}
   }
  ],
  "spacing":0,
  "resolve":{"scale":{"x":"independent","y":"independent","color":"independent","shape":"independent"},"legend":{"color":"independent","shape":"independent"}}
 },
 {
  "vconcat":[
   {
    "width":362,"height":142,
    "layer":[
     {"data":{"name":"shade"},"mark":{"type":"rect","color":"#f7d9c4","opacity":0.5},
      "encoding":{"x":{"field":"d","type":"nominal","sort":["1-Nov","8-Nov","15-Nov","22-Nov","28-Nov","2-Dec","6-Dec","10-Dec","15-Dec","19-Dec","24-Dec","29-Dec","nDP","DP","IB"],"scale":{"type":"band","paddingInner":0,"paddingOuter":0,"domain":["1-Nov","8-Nov","15-Nov","22-Nov","28-Nov","2-Dec","6-Dec","10-Dec","15-Dec","19-Dec","24-Dec","29-Dec","nDP","DP","IB"]},"axis":{"labels":false,"ticks":false,"domain":false,"grid":true,"tickBand":"extent","title":null}}}},
     {"data":{"name":"c1"},
      "encoding":{"x":{"field":"d","type":"nominal","sort":["1-Nov","8-Nov","15-Nov","22-Nov","28-Nov","2-Dec","6-Dec","10-Dec","15-Dec","19-Dec","24-Dec","29-Dec","nDP","DP","IB"]},
       "y":{"field":"v","type":"quantitative","scale":{"domain":[0,2],"nice":false,"range":[142,5]},"axis":{"title":"(ABA related DEGs)","titleColor":"#e02020","titleAnchor":"start","titleFontSize":11,"titlePadding":0,"values":[0,0.2,0.4,0.6,0.8,1.0,1.2,1.4,1.6,1.8,2.0],"tickCount":30,"format":".1f","labelOverlap":false,"labelFontSize":8.5,"labelPadding":1,"grid":true,"ticks":false}},
       "color":{"field":"g","type":"nominal","scale":{"domain":["CpPYL4(Unigene0111683)","CpPP2C-6 (Unigene0045734)","CpSAPK7(Unigene0059859)","CpSRK2E (Unigene0040392)"],"range":["#ff1e1e","#ff33ff","#8c8c8c","#111111"]},
        "legend":{"orient":"top-left","direction":"horizontal","columns":4,"title":null,"offset":3,"padding":1,"labelFontSize":6.1,"labelOffset":2,"labelLimit":200,"columnPadding":4,"symbolType":"stroke","symbolSize":60,"symbolStrokeWidth":1.4,
         "labelColor":{"expr":"['#ff1e1e','#ff33ff','#8c8c8c','#111111'][indexof(['CpPYL4(Unigene0111683)','CpPP2C-6 (Unigene0045734)','CpSAPK7(Unigene0059859)','CpSRK2E (Unigene0040392)'], datum.label)]"}}}},
      "layer":[
       {"mark":{"type":"line","strokeWidth":1.3}},
       {"mark":{"type":"errorbar","ticks":{"size":4},"thickness":0.9},"encoding":{"yError":{"field":"e"}}},
       {"mark":{"type":"point","filled":true,"size":12,"shape":"square","opacity":1}},
       {"transform":[{"filter":"isValid(datum.l)"}],"mark":{"type":"text","dy":-7,"font":"Liberation Serif","fontSize":8},"encoding":{"text":{"field":"l"}}}
      ]},
     {"data":{"values":[{}]},"mark":{"type":"text","text":"c","font":"Liberation Sans","fontSize":18,"fontWeight":"bold","align":"left","baseline":"middle","dx":-31,"dy":3},"encoding":{"x":{"datum":"1-Nov"},"y":{"datum":2.0}}}
    ]
   },
   {
    "width":362,"height":142,
    "layer":[
     {"data":{"name":"shade"},"mark":{"type":"rect","color":"#f7d9c4","opacity":0.5},
      "encoding":{"x":{"field":"d","type":"nominal","sort":["1-Nov","8-Nov","15-Nov","22-Nov","28-Nov","2-Dec","6-Dec","10-Dec","15-Dec","19-Dec","24-Dec","29-Dec","nDP","DP","IB"],"scale":{"type":"band","paddingInner":0,"paddingOuter":0,"domain":["1-Nov","8-Nov","15-Nov","22-Nov","28-Nov","2-Dec","6-Dec","10-Dec","15-Dec","19-Dec","24-Dec","29-Dec","nDP","DP","IB"]},"axis":{"labels":false,"ticks":false,"domain":false,"grid":true,"tickBand":"extent","title":null}}}},
     {"data":{"name":"c2"},
      "encoding":{"x":{"field":"d","type":"nominal","sort":["1-Nov","8-Nov","15-Nov","22-Nov","28-Nov","2-Dec","6-Dec","10-Dec","15-Dec","19-Dec","24-Dec","29-Dec","nDP","DP","IB"]},
       "y":{"field":"v","type":"quantitative","scale":{"domain":[0,2.5],"nice":false},"axis":{"title":"Relative expression","titleAnchor":"end","titleFontSize":11,"titlePadding":0,"values":[0,0.5,1.0,1.5,2.0,2.5],"tickCount":30,"format":".1f","labelOverlap":false,"labelFontSize":8.5,"labelPadding":1,"labelBaseline":{"condition":{"test":"datum.value == 2.5","value":"top"},"value":"middle"},"grid":true,"ticks":false}},
       "color":{"field":"g","type":"nominal","scale":{"domain":["CpABI5-1(Unigene0029724)","CpABI5-2 (Unigene0029725)","CpABI5-3 (Unigene0038509)","CpABI3 (Unigene0010266)","CpNCED3 (Unigene0003015)","CpCYP707A1 (Unigene0061565)"],"range":["#1a1af5","#1aaef0","#8a8a8a","#3cb35a","#111111","#ff33ff"]},
        "legend":{"orient":"top-left","direction":"horizontal","columns":3,"title":null,"offset":2,"padding":1,"labelFontSize":6.5,"labelOffset":2,"labelLimit":200,"columnPadding":24,"rowPadding":0,"symbolType":"stroke","symbolSize":80,"symbolStrokeWidth":1.4,
         "labelColor":{"expr":"['#1a1af5','#1aaef0','#8a8a8a','#3cb35a','#111111','#ff33ff'][indexof(['CpABI5-1(Unigene0029724)','CpABI5-2 (Unigene0029725)','CpABI5-3 (Unigene0038509)','CpABI3 (Unigene0010266)','CpNCED3 (Unigene0003015)','CpCYP707A1 (Unigene0061565)'], datum.label)]"}}}},
      "layer":[
       {"transform":[{"filter":"indexof(datum.g,'NCED3') < 0 && indexof(datum.g,'CYP707A1') < 0"}],"mark":{"type":"line","strokeWidth":1.3}},
       {"transform":[{"filter":"indexof(datum.g,'NCED3') >= 0 || indexof(datum.g,'CYP707A1') >= 0"}],"mark":{"type":"line","strokeWidth":1.3,"strokeDash":[4,2]}},
       {"mark":{"type":"errorbar","ticks":{"size":4},"thickness":0.9},"encoding":{"yError":{"field":"e"}}},
       {"mark":{"type":"point","filled":true,"size":12,"shape":"square","opacity":1}}
      ]},
     {"data":{"values":[{}]},"mark":{"type":"rule","color":"#707070","strokeWidth":1.5},"encoding":{"x":{"datum":"15-Nov"},"x2":{"datum":"nDP"},"y":{"datum":1.96}}},
     {"data":{"values":[{}]},"mark":{"type":"rule","color":"#707070","strokeWidth":1.5},"encoding":{"x":{"datum":"15-Nov"},"y":{"datum":1.8},"y2":{"datum":1.96}}},
     {"data":{"values":[{}]},"mark":{"type":"rule","color":"#707070","strokeWidth":1.5},"encoding":{"x":{"datum":"nDP"},"y":{"datum":1.13},"y2":{"datum":1.96}}},
     {"data":{"values":[{}]},"mark":{"type":"rule","color":"#707070","strokeWidth":1.5},"encoding":{"x":{"datum":"24-Dec","bandPosition":0},"x2":{"datum":"IB","bandPosition":1},"y":{"datum":1.13}}},
     {"data":{"values":[{}]},"mark":{"type":"text","text":"p ≤","font":"Liberation Serif","fontSize":8.5,"fontWeight":"bold","fontStyle":"italic","color":"#111","align":"left","baseline":"middle","dx":-80},"encoding":{"x":{"datum":"10-Dec"},"y":{"datum":2.0}}},
     {"data":{"values":[{}]},"mark":{"type":"text","text":"0.0058/","font":"Liberation Serif","fontSize":8.5,"fontWeight":"bold","color":"#1a1af5","align":"left","baseline":"middle","dx":-67},"encoding":{"x":{"datum":"10-Dec"},"y":{"datum":2.0}}},
     {"data":{"values":[{}]},"mark":{"type":"text","text":"0.00096/","font":"Liberation Serif","fontSize":8.5,"fontWeight":"bold","color":"#1aaef0","align":"left","baseline":"middle","dx":-40},"encoding":{"x":{"datum":"10-Dec"},"y":{"datum":2.0}}},
     {"data":{"values":[{}]},"mark":{"type":"text","text":"0.021/","font":"Liberation Serif","fontSize":8.5,"color":"#555","align":"left","baseline":"middle","dx":-9},"encoding":{"x":{"datum":"10-Dec"},"y":{"datum":2.0}}},
     {"data":{"values":[{}]},"mark":{"type":"text","text":"0.0076/","font":"Liberation Serif","fontSize":8.5,"fontWeight":"bold","color":"#2ea84a","align":"left","baseline":"middle","dx":12},"encoding":{"x":{"datum":"10-Dec"},"y":{"datum":2.0}}},
     {"data":{"values":[{}]},"mark":{"type":"text","text":"0.0055/","font":"Liberation Serif","fontSize":8.5,"fontWeight":"bold","color":"#111","align":"left","baseline":"middle","dx":37},"encoding":{"x":{"datum":"10-Dec"},"y":{"datum":2.0}}},
     {"data":{"values":[{}]},"mark":{"type":"text","text":"0.000065","font":"Liberation Serif","fontSize":8.5,"fontWeight":"bold","color":"#ff33ff","align":"left","baseline":"middle","dx":62},"encoding":{"x":{"datum":"10-Dec"},"y":{"datum":2.0}}}
    ]
   },
   {
    "width":362,"height":148,
    "layer":[
     {"data":{"name":"shade"},"mark":{"type":"rect","color":"#f7d9c4","opacity":0.5},
      "encoding":{"x":{"field":"d","type":"nominal","sort":["1-Nov","8-Nov","15-Nov","22-Nov","28-Nov","2-Dec","6-Dec","10-Dec","15-Dec","19-Dec","24-Dec","29-Dec","nDP","DP","IB"],"scale":{"type":"band","paddingInner":0,"paddingOuter":0,"domain":["1-Nov","8-Nov","15-Nov","22-Nov","28-Nov","2-Dec","6-Dec","10-Dec","15-Dec","19-Dec","24-Dec","29-Dec","nDP","DP","IB"]},
        "axis":{"title":"Flower buds of different stages (2019-2020)","titleFontSize":13,"titlePadding":10,"labelFontSize":8,"labelAngle":0,"labelPadding":2,"labelOverlap":false,"labelFontWeight":{"condition":{"test":"indexof(['15-Nov','24-Dec','29-Dec','nDP','DP','IB'], datum.value) >= 0","value":"bold"},"value":"normal"},"labelColor":{"condition":{"test":"datum.value == '29-Dec'","value":"#e02020"},"value":"#222"},"tickBand":"extent","grid":true,"tickSize":3}}}},
     {"data":{"name":"gd"},
      "encoding":{"x":{"field":"d","type":"nominal","sort":["1-Nov","8-Nov","15-Nov","22-Nov","28-Nov","2-Dec","6-Dec","10-Dec","15-Dec","19-Dec","24-Dec","29-Dec","nDP","DP","IB"]},
       "y":{"field":"v","type":"quantitative","scale":{"domain":[0,2.5],"nice":false},"axis":{"title":"Relative expression","titleAnchor":"start","titleFontSize":11,"titlePadding":0,"values":[0,0.5,1.0,1.5,2.0,2.5],"tickCount":30,"format":".1f","labelOverlap":false,"labelFontSize":8.5,"labelPadding":1,"labelBaseline":{"condition":{"test":"datum.value == 2.5","value":"top"},"value":"middle"},"grid":true,"ticks":false}},
       "color":{"field":"g","type":"nominal","scale":{"domain":["CpGID1C (Unigene0076024)","CpGID2-1 (Unigene0000456)","CpGA1 (Unigene0055834)","CpPIF3 (Unigene0037263)"],"range":["#3c9a52","#1eb4ee","#111111","#2323f0"]},
        "legend":{"orient":"top-left","direction":"horizontal","columns":4,"title":null,"offset":2,"padding":1,"labelFontSize":6.1,"labelOffset":2,"labelLimit":200,"columnPadding":5,"symbolType":"stroke","symbolSize":60,"symbolStrokeWidth":1.4,
         "labelColor":{"expr":"['#3c9a52','#1eb4ee','#111111','#2323f0'][indexof(['CpGID1C (Unigene0076024)','CpGID2-1 (Unigene0000456)','CpGA1 (Unigene0055834)','CpPIF3 (Unigene0037263)'], datum.label)]"}}}},
      "layer":[
       {"mark":{"type":"line","strokeWidth":1.3}},
       {"mark":{"type":"errorbar","ticks":{"size":4},"thickness":0.9},"encoding":{"yError":{"field":"e"}}},
       {"mark":{"type":"point","filled":true,"size":12,"shape":"square","opacity":1}},
       {"transform":[{"filter":"isValid(datum.l) && indexof(['CpGID1C (Unigene0076024)','CpPIF3 (Unigene0037263)'], datum.g) < 0"}],"mark":{"type":"text","dy":-7,"font":"Liberation Serif","fontSize":8},"encoding":{"text":{"field":"l"}}},
       {"transform":[{"filter":"isValid(datum.l) && indexof(['CpGID1C (Unigene0076024)','CpPIF3 (Unigene0037263)'], datum.g) >= 0"}],"mark":{"type":"text","dy":8,"font":"Liberation Serif","fontSize":8},"encoding":{"text":{"field":"l"}}}
      ]},
     {"data":{"values":[{}]},"mark":{"type":"rule","color":"#707070","strokeWidth":1.5},"encoding":{"x":{"datum":"15-Nov"},"x2":{"datum":"nDP"},"y":{"datum":2.16}}},
     {"data":{"values":[{}]},"mark":{"type":"rule","color":"#707070","strokeWidth":1.5},"encoding":{"x":{"datum":"15-Nov"},"y":{"datum":1.5},"y2":{"datum":2.16}}},
     {"data":{"values":[{}]},"mark":{"type":"rule","color":"#707070","strokeWidth":1.5},"encoding":{"x":{"datum":"nDP"},"y":{"datum":1.02},"y2":{"datum":2.16}}},
     {"data":{"values":[{}]},"mark":{"type":"rule","color":"#707070","strokeWidth":1.5},"encoding":{"x":{"datum":"24-Dec","bandPosition":0},"x2":{"datum":"IB","bandPosition":1},"y":{"datum":1.02}}},
     {"data":{"values":[{}]},"mark":{"type":"text","text":"*","font":"Liberation Serif","fontSize":13,"fontWeight":"bold","color":"#111","baseline":"middle"},"encoding":{"x":{"datum":"10-Dec"},"y":{"datum":2.25}}},
     {"data":{"values":[{}]},"mark":{"type":"text","text":"d","font":"Liberation Sans","fontSize":18,"fontWeight":"bold","align":"left","baseline":"middle","dx":-31,"dy":4},"encoding":{"x":{"datum":"1-Nov"},"y":{"datum":2.5}}},
     {"data":{"values":[{}]},"mark":{"type":"text","text":"(GA related DEGs)","font":"Liberation Serif","fontSize":11,"color":"#1f7bcc","angle":270,"align":"center","baseline":"middle","dx":-29},"encoding":{"x":{"datum":"1-Nov"},"y":{"datum":2.2}}},
     {"data":{"values":[{}]},"mark":{"type":"rule","color":"#9a9a9a","strokeWidth":1.2},"encoding":{"x":{"datum":"1-Nov","bandPosition":0},"x2":{"datum":"29-Dec","bandPosition":0.6},"y":{"datum":-0.18}}},
     {"data":{"values":[{}]},"mark":{"type":"rule","color":"#9a9a9a","strokeWidth":1.2},"encoding":{"x":{"datum":"nDP","bandPosition":0.05},"x2":{"datum":"nDP","bandPosition":0.95},"y":{"datum":-0.18}}},
     {"data":{"values":[{}]},"mark":{"type":"rule","color":"#9a9a9a","strokeWidth":1.2},"encoding":{"x":{"datum":"DP","bandPosition":0.25},"x2":{"datum":"IB","bandPosition":0.5},"y":{"datum":-0.18}}},
     {"data":{"values":[{}]},"mark":{"type":"text","text":"FBs","font":"Liberation Serif","fontSize":9,"baseline":"middle","dx":10},"encoding":{"x":{"datum":"2-Dec"},"y":{"datum":-0.26}}},
     {"data":{"values":[{}]},"mark":{"type":"text","text":"2-Jan","font":"Liberation Serif","fontSize":9,"baseline":"middle"},"encoding":{"x":{"datum":"nDP"},"y":{"datum":-0.26}}},
     {"data":{"values":[{}]},"mark":{"type":"text","text":"7-Jan","font":"Liberation Serif","fontSize":9,"baseline":"middle","dx":12},"encoding":{"x":{"datum":"DP"},"y":{"datum":-0.26}}}
    ]
   }
  ],
  "spacing":4,
  "bounds":"flush",
  "resolve":{"scale":{"x":"independent","y":"independent","color":"independent"},"legend":{"color":"independent"}}
 }
],
"spacing":2,
"resolve":{"scale":{"x":"independent","y":"independent","color":"independent","shape":"independent"},"legend":{"color":"independent","shape":"independent"}}
}
